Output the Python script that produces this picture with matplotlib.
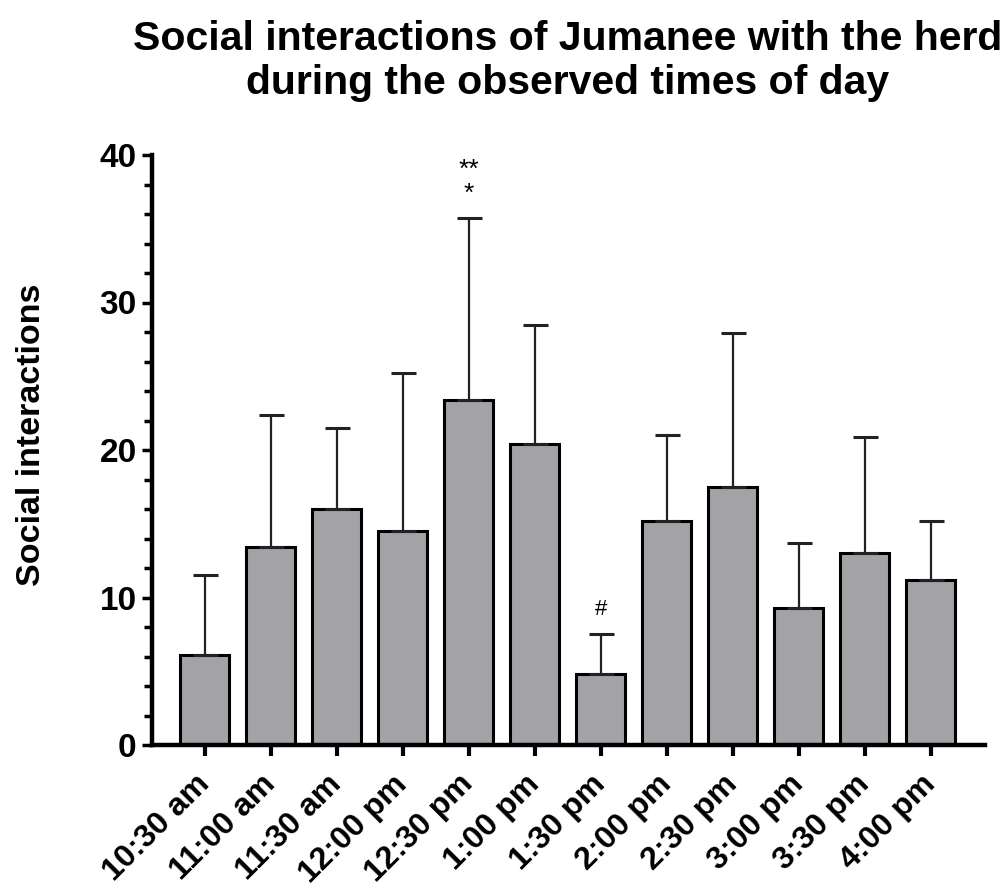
import matplotlib
matplotlib.use("Agg")
import matplotlib.pyplot as plt
import numpy as np

# Mean social interactions per observation slot, with SD
times = ["10:30 am", "11:00 am", "11:30 am", "12:00 pm", "12:30 pm", "1:00 pm",
         "1:30 pm", "2:00 pm", "2:30 pm", "3:00 pm", "3:30 pm", "4:00 pm"]
means = [6.1, 13.4, 16.0, 14.5, 23.4, 20.4, 4.8, 15.2, 17.5, 9.3, 13.0, 11.2]
upper = [11.5, 22.4, 21.5, 25.2, 35.7, 28.5, 7.5, 21.0, 27.9, 13.7, 20.9, 15.2]
sd = [u - m for u, m in zip(upper, means)]

plt.rcParams['font.family'] = ['Liberation Sans', 'DejaVu Sans']

fig = plt.figure(figsize=(10.07, 8.90), dpi=100)
ax = fig.add_axes([152 / 1007, 145 / 890, 833 / 1007, 590 / 890])

x = np.arange(len(times))
ax.bar(x, means, width=0.74, color='#a3a2a7', edgecolor='black', linewidth=2.2,
       yerr=[np.zeros(len(sd)), sd], capsize=9,
       error_kw=dict(elinewidth=1.6, capthick=2.2, ecolor='#222222'), zorder=2)

# significance markers
ax.annotate("*", (4, upper[4]), xytext=(0, 9), textcoords='offset points',
            ha='center', va='bottom', fontsize=19)
ax.annotate("**", (4, upper[4]), xytext=(0, 26), textcoords='offset points',
            ha='center', va='bottom', fontsize=19)
ax.annotate("#", (6, upper[6]), xytext=(0, 10), textcoords='offset points',
            ha='center', va='bottom', fontsize=16)

ax.set_xlim(-0.8, 11.82)
ax.set_ylim(0, 40)
ax.set_yticks([0, 10, 20, 30, 40])
ax.set_yticks(np.arange(0, 41, 2), minor=True)
ax.set_xticks(x)
ax.set_xticklabels(times, rotation=45, ha='right', va='center',
                   rotation_mode='anchor', fontsize=23, fontweight='bold')

for lbl in ax.get_yticklabels():
    lbl.set_fontweight('bold')
ax.tick_params(axis='y', labelsize=24, width=2.5, length=7, pad=4)
ax.tick_params(axis='y', which='minor', width=2.5, length=6)
ax.tick_params(axis='x', width=3, length=8, pad=17)

for side in ['top', 'right']:
    ax.spines[side].set_visible(False)
for side in ['left', 'bottom']:
    ax.spines[side].set_linewidth(3.2)

ax.set_ylabel("Social interactions", fontsize=24.5, fontweight='bold')
ax.yaxis.set_label_coords(-0.126, 0.525)
fig.text(568 / 1007, 1 - 61 / 890,
         "Social interactions of Jumanee with the herd\nduring the observed times of day",
         ha='center', va='center', fontsize=29.5, fontweight='bold', linespacing=1.17)

fig.savefig("out.png", dpi=100)
